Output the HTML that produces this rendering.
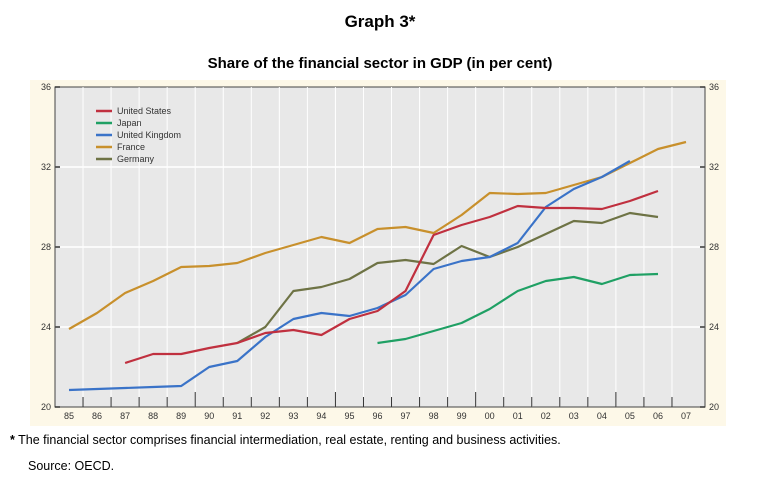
<!DOCTYPE html>
<html><head><meta charset="utf-8"><style>
body{margin:0;background:#fff;font-family:"Liberation Sans",Arial,sans-serif;}
</style></head><body>
<svg width="761" height="489" viewBox="0 0 761 489" xmlns="http://www.w3.org/2000/svg" font-family="Liberation Sans, Arial, sans-serif">
<text x="380" y="27" text-anchor="middle" font-size="17" font-weight="bold">Graph 3*</text>
<text x="380" y="68" text-anchor="middle" font-size="15" font-weight="bold">Share of the financial sector in GDP (in per cent)</text>
<rect x="30" y="80" width="696" height="346" fill="#fdf8e8"/>
<rect x="55" y="87" width="650" height="320" fill="#e8e8e8" stroke="#444" stroke-width="1"/>
<g id="grid"></g><g id="axes"></g><g id="series"></g>
<g font-size="9" fill="#333" id="legend"></g>
<text x="10" y="444" font-size="12.5"><tspan font-weight="bold">*</tspan>  The financial sector comprises financial intermediation, real estate, renting and business activities.</text>
<text x="28" y="470" font-size="12.5">Source: OECD.</text>
</svg>
<script>
const years=[85,86,87,88,89,90,91,92,93,94,95,96,97,98,99,100,101,102,103,104,105,106,107];
const yTicks=[20,24,28,32,36];
const seriesNames=["United States","Japan","United Kingdom","France","Germany"];
const seriesColors=["#c0303f","#1fa064","#3a73c8","#c8902c","#6e7345"];
const usStart=87, usVals=[22.2,22.65,22.65,22.95,23.2,23.7,23.85,23.6,24.4,24.8,25.8,28.6,29.1,29.5,30.05,29.95,29.95,29.9,30.3,30.8];
const jpStart=96, jpVals=[23.2,23.4,23.8,24.2,24.9,25.8,26.3,26.5,26.15,26.6,26.65];
const ukStart=85, ukVals=[20.85,20.9,20.95,21.0,21.05,22.0,22.3,23.5,24.4,24.7,24.55,24.95,25.6,26.9,27.3,27.5,28.2,30.0,30.9,31.5,32.3];
const frStart=85, frVals=[23.9,24.7,25.7,26.3,27.0,27.05,27.2,27.7,28.1,28.5,28.2,28.9,29.0,28.7,29.6,30.7,30.65,30.7,31.1,31.5,32.2,32.9,33.25];
const deStart=91, deVals=[23.2,24.0,25.8,26.0,26.4,27.2,27.35,27.15,28.05,27.5,28.0,28.65,29.3,29.2,29.7,29.5];
const NS="http://www.w3.org/2000/svg";
const X=y=>69+(y-85)*(617/22);
const Y=v=>407-(v-20)*20;
function mk(t,a,p){const e=document.createElementNS(NS,t);for(const k in a)e.setAttribute(k,a[k]);p.appendChild(e);return e;}
const grid=document.getElementById('grid'),axes=document.getElementById('axes'),ser=document.getElementById('series'),leg=document.getElementById('legend');
yTicks.forEach(v=>{
 if(v>20&&v<36){const l=mk('line',{x1:55,x2:705,y1:Y(v),y2:Y(v),stroke:'#fff','stroke-width':1.5},grid);
 
 }
 const a=mk('text',{x:51,y:Y(v)+3,'text-anchor':'end','font-size':9,fill:'#333'},axes);a.textContent=v;
 
 
 const b=mk('text',{x:709,y:Y(v)+3,'font-size':9,fill:'#333'},axes);b.textContent=v;
 
 
 mk('line',{x1:55,x2:60,y1:Y(v),y2:Y(v),stroke:'#333','stroke-width':1.5},axes);
 mk('line',{x1:700,x2:705,y1:Y(v),y2:Y(v),stroke:'#333','stroke-width':1.5},axes);
});
years.forEach((yr,i)=>{
 const xb=X(yr)+617/44;
 if(i<years.length-1){const g=mk('line',{x1:xb,x2:xb,y1:87,y2:407,stroke:'#fff','stroke-width':1},grid);
 
 
 const big=(yr%5===4);
 mk('line',{x1:xb,x2:xb,y1:big?392:397,y2:407,stroke:'#333','stroke-width':1},axes);}
 const t=mk('text',{x:X(yr),y:419,'text-anchor':'middle','font-size':9,fill:'#333'},axes);
 t.textContent=String(yr%100).padStart(2,'0');
 
 
});
const all=[[usStart,usVals],[jpStart,jpVals],[ukStart,ukVals],[frStart,frVals],[deStart,deVals]];
const order=[3,4,2,0,1];
order.forEach(i=>{
 const [s,vals]=all[i];
 const pts=vals.map((v,k)=>X(s+k).toFixed(1)+','+Y(v).toFixed(1)).join(' ');
 const p=mk('polyline',{points:pts,fill:'none',stroke:seriesColors[i],'stroke-width':2.2,'stroke-linejoin':'round'},ser);
 
 
});
seriesNames.forEach((n,i)=>{
 const y=111+i*12;
 const l=mk('line',{x1:96,x2:112,y1:y,y2:y,stroke:seriesColors[i],'stroke-width':2.5},leg);
 
 
 const t=mk('text',{x:117,y:y+3,'font-size':9,fill:'#333'},leg);t.textContent=n;
 
 
});
</script>
</body></html>
